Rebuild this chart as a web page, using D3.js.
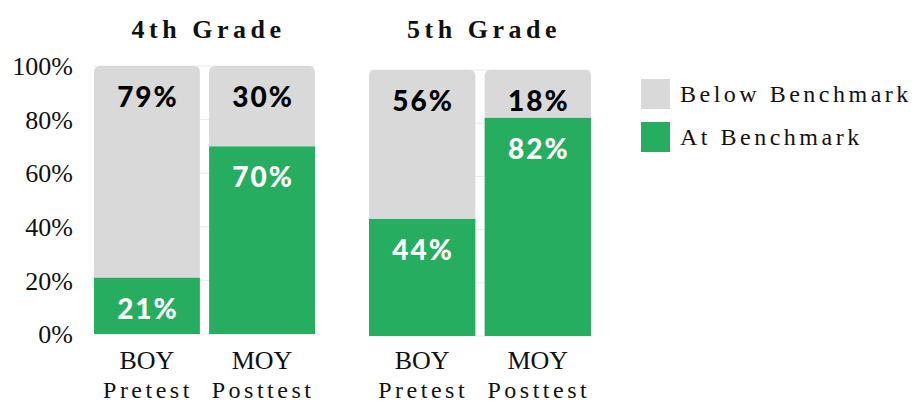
<!DOCTYPE html>
<html>
<head>
<meta charset="utf-8">
<script src="https://cdn.jsdelivr.net/npm/d3@7"></script>
<style>
  body { margin: 0; background: #fff; }
</style>
</head>
<body>
<div id="chart"></div>
<script>
const grades = ["4th Grade", "5th Grade"];
const testLabels = ["BOY", "MOY"];
const testSubLabels = ["Pretest", "Posttest"];
const atBenchmark = [[21, 70], [44, 82]];
const belowBenchmark = [[79, 30], [56, 18]];
const yTicks = [0, 20, 40, 60, 80, 100];
const seriesNames = ["Below Benchmark", "At Benchmark"];

const svgWidth = 923, svgHeight = 404;
const green = "#27ad5f", grey = "#d9d9d9", gridColor = "#ebebeb";
const serif = "'Liberation Serif', 'DejaVu Serif', serif";
const sans = "Lato, 'Open Sans', sans-serif";

const svg = d3.select("#chart")
    .append("svg")
    .attr("width", svgWidth)
    .attr("height", svgHeight);

// per-panel geometry
const panels = [
    { x0: 94, x1: 315, top: 66, bottom: 334 },
    { x0: 369, x1: 591, top: 70, bottom: 336 }
];

function topRounded(x, y, w, h, r) {
    return `M${x},${y + h}V${y + r}Q${x},${y} ${x + r},${y}H${x + w - r}Q${x + w},${y} ${x + w},${y + r}V${y + h}Z`;
}

grades.forEach((grade, gi) => {
    const p = panels[gi];
    const x = d3.scaleBand().domain(testLabels).range([p.x0, p.x1]).paddingInner(0.08);
    const y = d3.scaleLinear().domain([0, 100]).range([p.bottom, p.top]);
    const g = svg.append("g");

    // gridlines
    g.selectAll("line.grid")
        .data(yTicks)
        .enter().append("line")
        .attr("x1", p.x0).attr("x2", p.x1)
        .attr("y1", d => y(d)).attr("y2", d => y(d))
        .attr("stroke", gridColor).attr("stroke-width", 1);

    // y axis labels only on first panel
    if (gi === 0) {
        g.selectAll("text.ytick")
            .data(yTicks)
            .enter().append("text")
            .attr("x", 73)
            .attr("y", d => y(d))
            .attr("dy", "0.35em")
            .attr("text-anchor", "end")
            .style("font-family", serif)
            .style("font-size", "26px")
            .style("fill", "#111")
            .text(d => d + "%");
    }

    // title
    g.append("text")
        .attr("x", (p.x0 + p.x1) / 2 + 4)
        .attr("y", 38)
        .attr("text-anchor", "middle")
        .style("font-family", serif)
        .style("font-size", "26px")
        .style("font-weight", "bold")
        .style("letter-spacing", "4.5px")
        .style("fill", "#111")
        .text(grade);

    testLabels.forEach((t, ti) => {
        const at = atBenchmark[gi][ti];
        const below = belowBenchmark[gi][ti];
        const bx = x(t), bw = x.bandwidth();

        // below benchmark (grey, rounded top)
        g.append("path")
            .attr("d", topRounded(bx, y(at + below), bw, y(at) - y(at + below), 6))
            .attr("fill", grey);

        // at benchmark (green)
        g.append("rect")
            .attr("x", bx).attr("y", y(at))
            .attr("width", bw).attr("height", y(0) - y(at))
            .attr("fill", green);

        // value labels
        g.append("text")
            .attr("x", bx + bw / 2 + 1)
            .attr("y", y(at + below) + 41)
            .attr("text-anchor", "middle")
            .style("font-family", sans)
            .style("font-weight", "900")
            .style("font-size", "28px")
            .style("letter-spacing", "2px")
            .style("fill", "#000")
            .text(below + "%");

        g.append("text")
            .attr("x", bx + bw / 2 + 1)
            .attr("y", y(at) + 41)
            .attr("text-anchor", "middle")
            .style("font-family", sans)
            .style("font-weight", "900")
            .style("font-size", "28px")
            .style("letter-spacing", "2px")
            .style("fill", "#fff")
            .text(at + "%");

        // category labels
        g.append("text")
            .attr("x", bx + bw / 2)
            .attr("y", 369)
            .attr("text-anchor", "middle")
            .style("font-family", serif)
            .style("font-size", "26px")
            .style("fill", "#111")
            .text(t);

        g.append("text")
            .attr("x", bx + bw / 2 + 1)
            .attr("y", 398)
            .attr("text-anchor", "middle")
            .style("font-family", serif)
            .style("font-size", "24px")
            .style("letter-spacing", "3.5px")
            .style("fill", "#111")
            .text(testSubLabels[ti]);
    });
});

// legend
const legendColors = [grey, green];
const legend = svg.append("g").attr("transform", "translate(641, 79)");
seriesNames.forEach((name, i) => {
    const lg = legend.append("g").attr("transform", `translate(0, ${i * 43})`);
    lg.append("rect")
        .attr("width", 29).attr("height", 30)
        .attr("fill", legendColors[i]);
    lg.append("text")
        .attr("x", 39)
        .attr("y", 15)
        .attr("dy", "0.35em")
        .style("font-family", serif)
        .style("font-size", "24px")
        .style("letter-spacing", "3.5px")
        .style("fill", "#111")
        .text(name);
});
</script>
</body>
</html>
